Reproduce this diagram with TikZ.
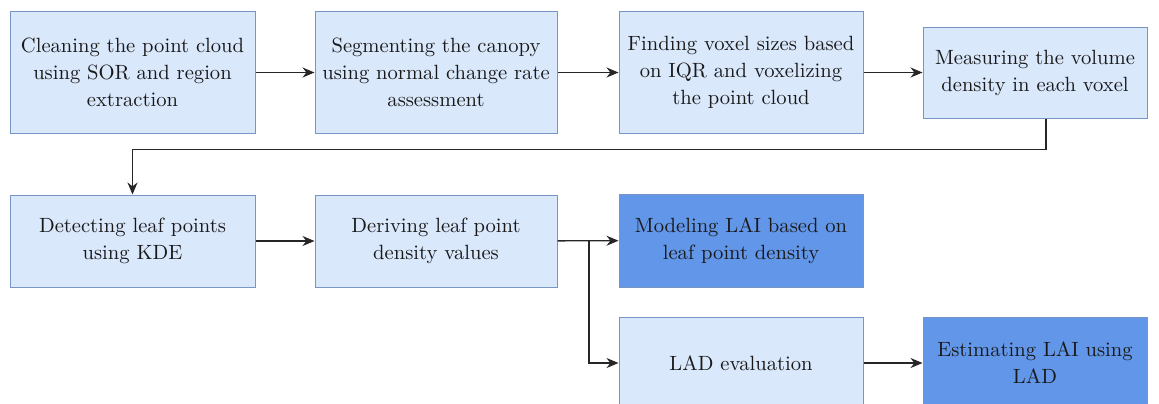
\documentclass[tikz,border=0pt]{standalone}
\usepackage{tikz}
\usetikzlibrary{arrows.meta}

\definecolor{boxfill}{RGB}{218,232,252}
\definecolor{boxline}{RGB}{120,150,195}
\definecolor{darkfill}{RGB}{98,150,232}

\begin{document}
\begin{tikzpicture}[x=0.5pt,y=-0.5pt,>={Stealth[length=6pt,width=5pt]},
  stepbox/.style={draw=boxline,fill=boxfill,line width=0.5pt,align=center,
    font=\fontsize{10.3}{13.5}\selectfont,text=black!90,inner sep=0pt},
  darkbox/.style={stepbox,fill=darkfill},
  conn/.style={->,line width=0.7pt,black!85}]
  \useasboundingbox (0,0) rectangle (1159,403);
  \fill[white] (0,0) rectangle (1159,403);
  \node[stepbox,minimum width=122.5pt,minimum height=61pt] (clean) at (132.5,72.5) {Cleaning the point cloud\\using SOR and region\\extraction};
  \node[stepbox,minimum width=121pt,minimum height=61pt] (segm) at (436,72.5) {Segmenting the canopy\\using normal change rate\\assessment};
  \node[stepbox,minimum width=122pt,minimum height=61pt] (voxel) at (741,72.5) {Finding voxel sizes based\\on IQR and voxelizing\\the point cloud};
  \node[stepbox,minimum width=112pt,minimum height=45.5pt] (meas) at (1035,72.5) {Measuring the volume\\density in each voxel};
  \node[stepbox,minimum width=122.5pt,minimum height=46pt] (detect) at (132.5,241) {Detecting leaf points\\using KDE};
  \node[stepbox,minimum width=121pt,minimum height=46pt] (deriv) at (436,241) {Deriving leaf point\\density values};
  \node[darkbox,minimum width=122pt,minimum height=46.5pt] (model) at (741,240.5) {Modeling LAI based on\\leaf point density};
  \node[stepbox,minimum width=122pt,minimum height=46pt] (lad) at (741,363) {LAD evaluation};
  \node[darkbox,minimum width=112pt,minimum height=46pt] (estim) at (1035,363) {Estimating LAI using\\LAD};
  \coordinate (br) at (589,241);
  \draw[conn] (clean) -- (segm);
  \draw[conn] (segm) -- (voxel);
  \draw[conn] (voxel) -- (meas);
  \draw[conn] ([xshift=5.5pt]meas.south) -- ++(0,31) -| (detect.north);
  \draw[conn] (detect) -- (deriv);
  \draw[conn] (deriv) -- (model);
  \draw[conn] (br) |- (lad.west);
  \draw[conn] (lad) -- (estim);
\end{tikzpicture}
\end{document}
